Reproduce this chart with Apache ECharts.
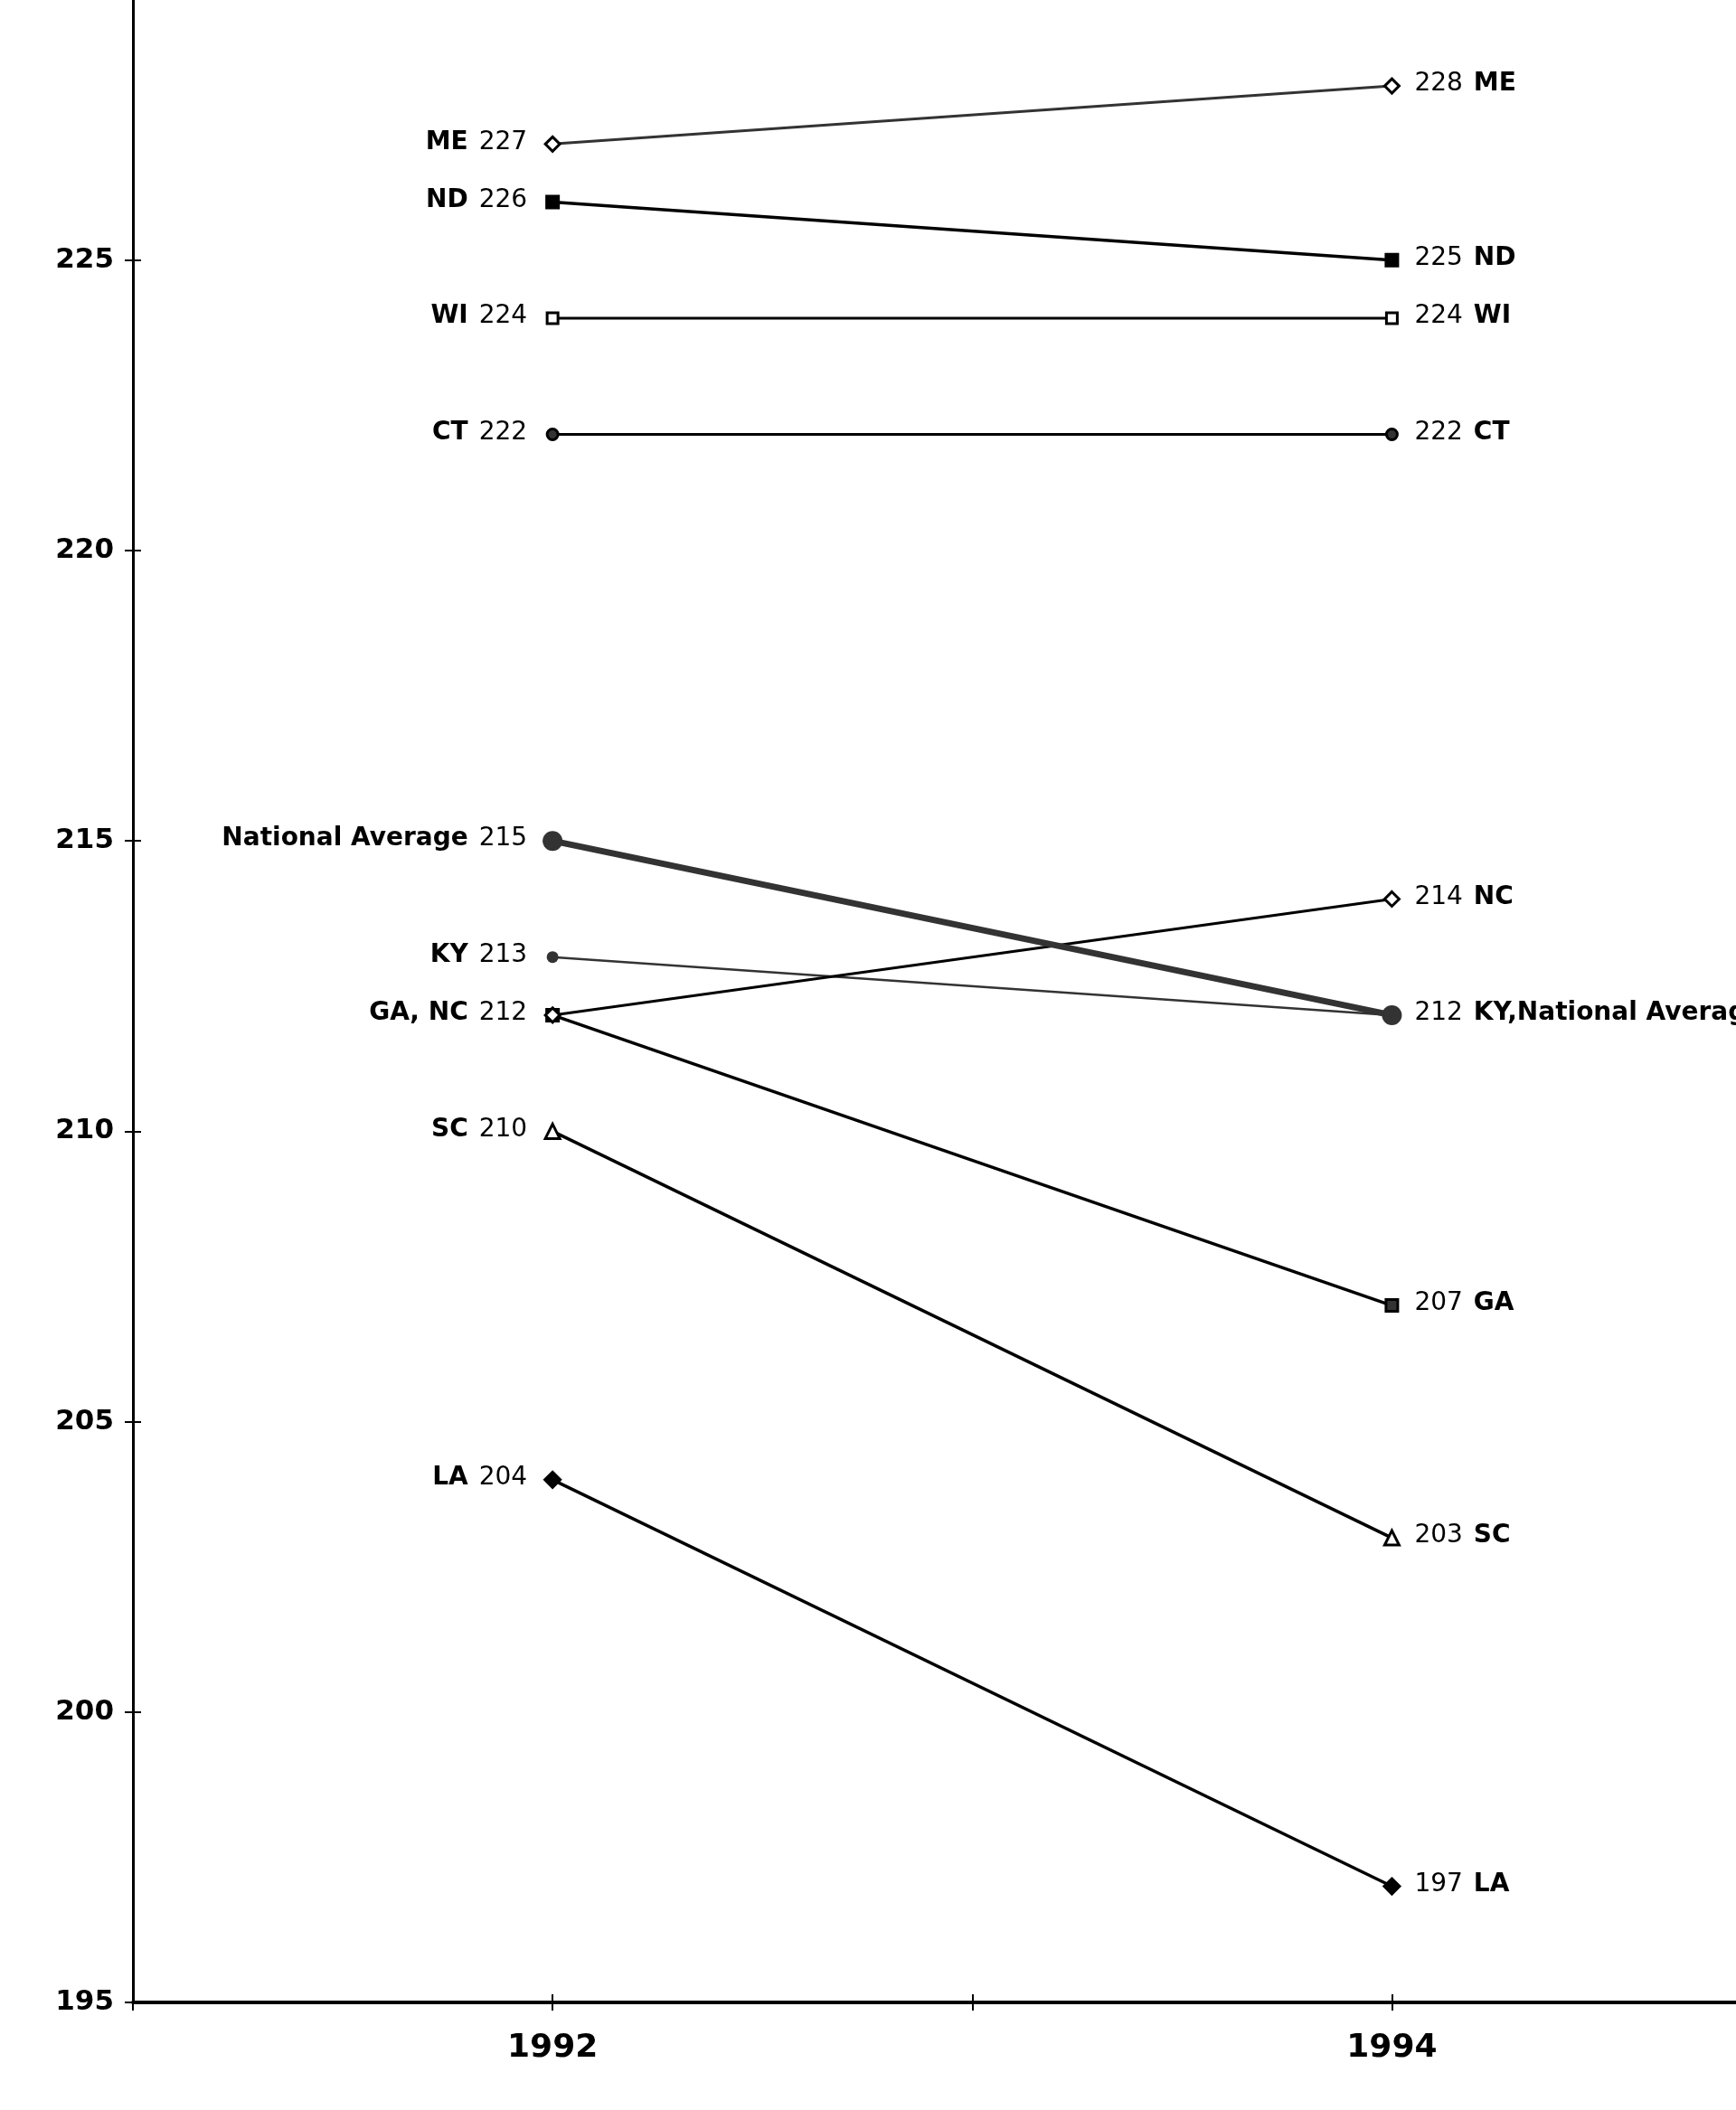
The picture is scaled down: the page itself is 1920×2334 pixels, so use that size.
<!DOCTYPE HTML>
<html style="height: 100%">

<head>
    <meta charset="utf-8">
    <title>1992 - 1994</title>
    <style>
        body {
            margin: 0;
            background: #fff;
        }
    </style>
</head>

<body>
    <div id="container" style="width: 1920px; height: 2334px"></div>
    <script src="https://cdn.jsdelivr.net/npm/echarts@6/dist/echarts.min.js"></script>
    <script>
        // 数据
        var years = [1992, 1994];
        var states = ['ME', 'ND', 'WI', 'CT', 'National Average', 'KY', 'GA', 'NC', 'SC', 'LA'];
        var y1992 = [227, 226, 224, 222, 215, 213, 212, 212, 210, 204];
        var y1994 = [228, 225, 224, 222, 212, 212, 207, 214, 203, 197];
        // 标签 (空 = 不显示)
        var leftTags = ['ME', 'ND', 'WI', 'CT', 'National Average', 'KY', 'GA, NC', '', 'SC', 'LA'];
        var rightTags = ['ME', 'ND', 'WI', 'CT', 'KY,National Average', '', 'GA', 'NC', 'SC', 'LA'];
        var yTicks = [195, 200, 205, 210, 215, 220, 225];
        var xTicks = [1991, 1992, 1993, 1994];

        // 样式
        var symbols = ['diamond', 'rect', 'rect', 'circle', 'circle', 'circle', 'rect', 'diamond', 'triangle', 'diamond'];
        var symbolSizes = [16, 13, 12, 12, 22, 13, 13, 16, 16, 17];
        var fills = ['#fff', '#000', '#fff', '#333', '#333', '#333', '#333', '#fff', '#fff', '#000'];
        var lineColors = ['#333', '#000', '#000', '#000', '#333', '#333', '#000', '#000', '#000', '#000'];
        var lineWidths = [3, 3.5, 3, 3, 7, 2.5, 3.5, 3, 3.5, 3.5];

        var rich = {
            n: { fontFamily: 'DejaVu Sans', fontWeight: 'bold', fontSize: 28, color: '#000' },
            v: { fontFamily: 'DejaVu Sans', fontWeight: 'normal', fontSize: 28, color: '#000' },
            gl: { width: 12 },
            gr: { width: 12 }
        };

        var series = [];
        for (var i = 0; i < states.length; i++) {
            var pts = [];
            var tags = [leftTags[i], rightTags[i]];
            var vals = [y1992[i], y1994[i]];
            for (var j = 0; j < years.length; j++) {
                var txt = '';
                if (tags[j] != '') {
                    txt = j == 0 ? '{n|' + tags[j] + '}{gl|}{v|' + vals[j] + '}'
                        : '{v|' + vals[j] + '}{gr|}{n|' + tags[j] + '}';
                }
                pts.push({
                    value: [years[j], vals[j]],
                    label: {
                        show: txt != '',
                        formatter: txt,
                        position: 'inside',
                        align: j == 0 ? 'right' : 'left',
                        verticalAlign: 'middle',
                        offset: j == 0 ? [-28, -2] : [25, -2],
                        rich: rich,
                        textBorderWidth: 0
                    }
                });
            }
            series.push({
                name: states[i],
                type: 'line',
                data: pts,
                symbol: symbols[i],
                symbolSize: symbolSizes[i],
                showAllSymbol: true,
                clip: false,
                lineStyle: { color: lineColors[i], width: lineWidths[i] },
                itemStyle: { color: fills[i], borderColor: i == 4 ? '#333' : '#000', borderWidth: i == 4 || i == 5 ? 0 : 3 },
                z: i == 4 ? 3 : 2
            });
        }

        var dom = document.getElementById("container");
        var myChart = echarts.init(dom);
        var option = {
            animation: false,
            backgroundColor: '#fff',
            grid: { left: 147, right: 0, top: 0, bottom: 119, containLabel: false },
            xAxis: [{
                type: 'value',
                min: 1991,
                max: 1994.82,
                position: 'bottom',
                splitLine: { show: false },
                axisLine: { show: true, lineStyle: { color: '#000', width: 4 } },
                axisTick: { show: true, customValues: xTicks, length: 9, lineStyle: { color: '#000', width: 2 } },
                axisLabel: {
                    customValues: years,
                    margin: 33,
                    fontFamily: 'DejaVu Sans',
                    fontWeight: 'bold',
                    fontSize: 36,
                    color: '#000',
                    formatter: function (v) {
                        return String(v);
                    }
                }
            }, {
                type: 'value',
                min: 1991,
                max: 1994.82,
                position: 'bottom',
                splitLine: { show: false },
                axisLine: { show: false },
                axisTick: { show: true, customValues: xTicks, inside: true, length: 9, lineStyle: { color: '#000', width: 2 } },
                axisLabel: { show: false }
            }],
            yAxis: [{
                type: 'value',
                min: 195,
                max: 229.48,
                position: 'left',
                splitLine: { show: false },
                axisLine: { show: true, lineStyle: { color: '#000', width: 3 } },
                axisTick: { show: true, customValues: yTicks, length: 9, lineStyle: { color: '#000', width: 2 } },
                axisLabel: {
                    customValues: yTicks,
                    margin: 21,
                    fontFamily: 'DejaVu Sans',
                    fontWeight: 'bold',
                    fontSize: 31,
                    color: '#000',
                    formatter: function (v) {
                        return String(v);
                    }
                }
            }, {
                type: 'value',
                min: 195,
                max: 229.48,
                position: 'left',
                splitLine: { show: false },
                axisLine: { show: false },
                axisTick: { show: true, customValues: yTicks, inside: true, length: 9, lineStyle: { color: '#000', width: 2 } },
                axisLabel: { show: false }
            }],
            series: series
        };
        if (option && typeof option === "object") {
            myChart.setOption(option, false);
        }
    </script>
</body>

</html>
